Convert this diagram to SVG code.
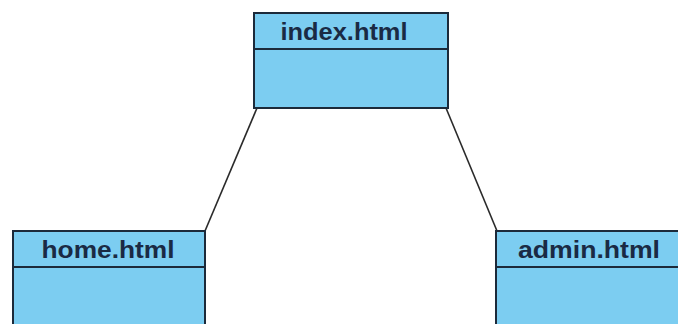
<svg xmlns="http://www.w3.org/2000/svg" width="678" height="324" viewBox="0 0 678 324">
<style>
.box{fill:#7ccdf1;stroke:#1c2a3a;stroke-width:2}
.div{stroke:#1c2a3a;stroke-width:2}
.t{font-family:"Liberation Sans",Arial,sans-serif;font-weight:bold;font-size:24px;fill:#1a2a44;text-anchor:middle}
.c{stroke:#2a2a2a;stroke-width:1.6;fill:none}
</style>
<rect width="678" height="324" fill="#ffffff"/>
<g id="connectors">
<line class="c" x1="257" y1="108" x2="205" y2="231"/>
<line class="c" x1="446" y1="108" x2="497" y2="231"/>
</g>
<g id="index">
<rect class="box" x="254" y="13" width="194" height="95"/>
<line class="div" x1="254" y1="49" x2="448" y2="49"/>
<text class="t" x="344" y="40" textLength="127" lengthAdjust="spacingAndGlyphs">index.html</text>
</g>
<g id="home">
<rect class="box" x="13" y="231" width="192" height="100"/>
<line class="div" x1="13" y1="267" x2="205" y2="267"/>
<text class="t" x="108" y="258" textLength="133" lengthAdjust="spacingAndGlyphs">home.html</text>
</g>
<g id="admin">
<rect class="box" x="496" y="231" width="190" height="100"/>
<line class="div" x1="496" y1="267" x2="686" y2="267"/>
<text class="t" x="589" y="258" textLength="142" lengthAdjust="spacingAndGlyphs">admin.html</text>
</g>
</svg>
